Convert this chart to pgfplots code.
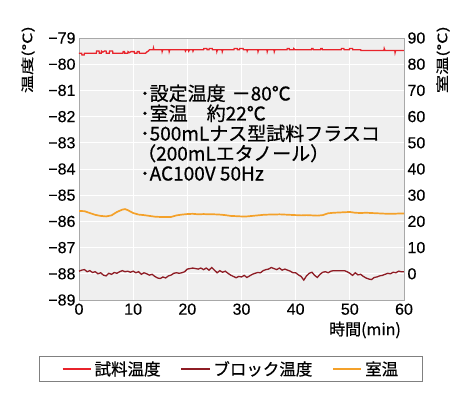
\documentclass[border=0pt]{standalone}
\usepackage{pgfplots}
\pgfplotsset{compat=1.18}
\usepackage{graphicx}
\usepackage{fontspec}
\setmainfont{Liberation Sans}[FakeBold=0.3]
\newfontfamily\jp{Noto Sans CJK JP}[FakeBold=0.6]
\definecolor{sred}{HTML}{E8232B}
\definecolor{bred}{HTML}{8E1C24}
\definecolor{rorange}{HTML}{F4A12A}
\definecolor{bggray}{HTML}{EFEFEF}
\definecolor{axgray}{HTML}{A8A8A8}
\begin{document}
\begin{tikzpicture}
\useasboundingbox (-79pt,-99pt) rectangle (391pt,300pt);
\begin{axis}[
  at={(0pt,0pt)}, anchor=south west,
  scale only axis, width=325pt, height=262pt,
  xmin=0, xmax=60, ymin=-89, ymax=-79,
  xtick={0,10,...,60},
  ytick={-89,-88,-87,-86,-85,-84,-83,-82,-81,-80,-79},
  yticklabels={−89,−88,−87,−86,−85,−84,−83,−82,−81,−80,−79},
  axis background/.style={fill=bggray},
  grid=major, grid style={white, line width=0.9pt},
  axis line style={axgray},
  major tick length=0pt,
  /pgf/number format/assume math mode=true,
  tick label style={font=\fontsize{16}{17}\selectfont},
  legend columns=3,
  legend style={at={(0.4677,-0.2634)}, anchor=center, draw=gray, line width=0.8pt,
    font=\jp\fontsize{16.5}{18}\selectfont, inner xsep=22pt, inner ysep=3pt,
    /tikz/every odd column/.append style={column sep=1pt},
    /tikz/every even column/.append style={column sep=18pt}},
  legend image code/.code={\draw[#1, line width=1.8pt] (0pt,0pt) -- (28pt,0pt);},
]
\addplot[sred, line width=1.3pt] coordinates {
(0,-79.58)(0.5,-79.58)(0.55,-79.65)(0.95,-79.65)(1.0,-79.58)(3.2,-79.58)(3.25,-79.5)(3.7,-79.5)(3.75,-79.58)(4.1,-79.58)(4.15,-79.5)(4.4,-79.54)(4.7,-79.5)(5.0,-79.5)(5.05,-79.58)(5.6,-79.58)(5.65,-79.5)(6.2,-79.5)(6.25,-79.58)(8.1,-79.58)(8.15,-79.52)(8.4,-79.52)(8.45,-79.58)(9.0,-79.58)(9.05,-79.52)(9.3,-79.56)(9.6,-79.52)(10.2,-79.52)(10.25,-79.58)(10.7,-79.58)(10.75,-79.52)(11.1,-79.52)(11.15,-79.58)(12.3,-79.58)(12.6,-79.52)(12.8,-79.5)(13.0,-79.45)(13.7,-79.45)(13.75,-79.38)(13.85,-79.45)(15.3,-79.45)(15.35,-79.52)(15.45,-79.45)(16.6,-79.45)(16.65,-79.52)(16.75,-79.45)(19.6,-79.45)(19.65,-79.5)(19.8,-79.45)(20.2,-79.45)(20.25,-79.5)(20.4,-79.45)(21.0,-79.45)(21.05,-79.5)(21.15,-79.45)(23.0,-79.45)(23.05,-79.4)(23.6,-79.4)(23.65,-79.45)(24.0,-79.45)(24.05,-79.4)(24.6,-79.4)(24.65,-79.45)(25.4,-79.45)(25.45,-79.52)(25.55,-79.45)(26.4,-79.45)(26.45,-79.52)(26.55,-79.45)(28.6,-79.45)(28.65,-79.4)(29.2,-79.4)(29.25,-79.45)(29.6,-79.45)(29.65,-79.4)(30.3,-79.4)(30.35,-79.45)(31.0,-79.45)(31.05,-79.5)(31.15,-79.45)(33.0,-79.45)(33.05,-79.52)(33.15,-79.45)(34.7,-79.45)(34.75,-79.52)(34.85,-79.45)(36.0,-79.45)(36.05,-79.52)(36.15,-79.45)(38.4,-79.45)(38.45,-79.4)(38.8,-79.4)(38.85,-79.45)(39.6,-79.45)(39.65,-79.4)(39.9,-79.45)(42.9,-79.45)(42.95,-79.4)(43.2,-79.4)(43.25,-79.45)(44.6,-79.45)(44.65,-79.4)(44.9,-79.4)(44.95,-79.45)(48.4,-79.45)(48.45,-79.4)(48.9,-79.4)(48.95,-79.45)(49.9,-79.45)(49.95,-79.4)(50.5,-79.4)(50.55,-79.45)(52.0,-79.45)(52.05,-79.48)(56.3,-79.48)(56.35,-79.4)(56.5,-79.48)(58.3,-79.48)(58.35,-79.56)(58.45,-79.48)(60,-79.48)
};
\addlegendentry{試料温度}
\addplot[bred, line width=1.3pt] coordinates {
(0,-87.90)(0.5,-87.86)(1,-87.84)(1.5,-87.92)(2,-87.88)(2.5,-87.95)(3,-87.92)(3.5,-88.00)(4,-87.96)(4.5,-88.05)(5,-88.08)(5.5,-87.98)(6,-88.02)(6.5,-87.95)(7,-87.98)(7.5,-87.92)(8,-87.88)(8.5,-87.92)(9,-87.90)(9.5,-87.94)(10,-87.90)(10.5,-87.96)(11,-87.92)(11.5,-88.02)(12,-87.96)(12.5,-88.00)(13,-88.05)(13.5,-88.02)(14,-88.10)(14.5,-88.16)(15,-88.18)(15.5,-88.12)(16,-88.16)(16.5,-88.08)(17,-88.05)(17.5,-87.98)(18,-87.96)(18.5,-87.98)(19,-87.96)(19.5,-87.92)(20,-87.82)(20.5,-87.80)(21,-87.78)(21.5,-87.80)(22,-87.82)(22.5,-87.78)(23,-87.84)(23.5,-87.78)(24,-87.86)(24.5,-87.76)(25,-87.86)(25.5,-87.96)(26,-87.88)(26.5,-87.94)(27,-87.90)(27.5,-87.98)(28,-88.05)(28.5,-88.10)(29,-88.15)(29.5,-88.10)(30,-88.12)(30.5,-88.06)(31,-88.14)(31.5,-88.08)(32,-88.02)(32.5,-87.98)(33,-87.95)(33.5,-87.96)(34,-87.88)(34.5,-87.84)(35,-87.82)(35.5,-87.76)(36,-87.80)(36.5,-87.84)(37,-87.78)(37.5,-87.86)(38,-87.82)(38.5,-87.86)(39,-87.90)(39.5,-87.96)(40,-87.96)(40.5,-88.04)(41,-88.10)(41.5,-88.24)(42,-88.08)(42.5,-87.98)(43,-87.94)(43.5,-88.06)(44,-88.14)(44.5,-88.02)(45,-87.94)(45.5,-87.92)(46,-87.96)(46.5,-87.90)(47,-87.88)(47.5,-87.88)(48,-87.88)(48.5,-87.88)(49,-87.88)(49.5,-87.92)(50,-87.98)(50.5,-88.06)(51,-87.96)(51.5,-88.04)(52,-88.02)(52.5,-88.10)(53,-88.16)(53.5,-88.20)(54,-88.22)(54.5,-88.14)(55,-88.12)(55.5,-88.08)(56,-88.06)(56.5,-88.02)(57,-87.98)(57.5,-88.00)(58,-87.94)(58.5,-87.96)(59,-87.90)(59.5,-87.92)(60,-87.92)
};
\addlegendentry{ブロック温度}
\addlegendimage{rorange}
\addlegendentry{室温}
\end{axis}
\begin{axis}[
  at={(0pt,0pt)}, anchor=south west,
  scale only axis, width=325pt, height=262pt,
  xmin=0, xmax=60, ymin=-10, ymax=90,
  hide x axis, axis y line*=right,
  ytick={0,10,...,90},
  axis line style={axgray},
  major tick length=0pt,
  /pgf/number format/assume math mode=true,
  tick label style={font=\fontsize{16}{17}\selectfont},
]
\addplot[rorange, line width=1.7pt] coordinates {
(0,24.0)(1,23.9)(2,23.2)(3,22.5)(4,22.1)(5,21.9)(6,22.3)(7,23.6)(8,24.5)(8.5,24.7)(9,24.3)(10,23.2)(11,22.6)(12,22.4)(13,22.1)(14,21.8)(15,21.7)(16,21.7)(17,21.7)(18,22.3)(19,22.6)(20,22.8)(21,22.9)(22,22.7)(23,22.8)(24,22.7)(25,22.7)(26,22.6)(27,22.4)(28,22.1)(29,22.0)(30,21.9)(31,21.9)(32,22.1)(33,22.3)(34,22.5)(35,22.6)(36,22.6)(37,22.7)(38,22.6)(39,22.5)(40,22.4)(41,22.3)(42,22.4)(43,22.3)(44,22.2)(45,22.4)(46,23.1)(47,23.3)(48,23.4)(49,23.5)(50,23.6)(51,23.3)(52,23.2)(53,23.3)(54,23.2)(55,23.1)(56,23.0)(57,22.9)(58,22.9)(59,23.0)(60,23.0)
};
\end{axis}
% axis titles
\node[rotate=90, anchor=east, inner sep=0pt, font=\jp\fontsize{13}{13}\selectfont] at (-51pt,274pt) {\scalebox{1.4}[1]{温度(℃)}};
\node[rotate=90, anchor=east, inner sep=0pt, font=\jp\fontsize{13}{13}\selectfont] at (364pt,274pt) {\scalebox{1.4}[1]{室温(℃)}};
\node[inner sep=0pt, font=\jp\fontsize{16}{16}\selectfont] at (286pt,-30pt) {時間(min)};
% annotation
\begin{scope}[every node/.style={anchor=base west, inner sep=0pt, font=\jp\fontsize{19}{20}\selectfont}]
\node at (61pt,199.5pt) {･設定温度\hspace{6pt}－80℃};
\node at (61pt,179.5pt) {･室温　約22℃};
\node at (61pt,159.5pt) {･500mLナス型試料フラスコ};
\node at (58pt,139.5pt) {（200mLエタノール）};
\node at (61pt,119.5pt) {･AC100V 50Hz};
\end{scope}
\end{tikzpicture}
\end{document}
